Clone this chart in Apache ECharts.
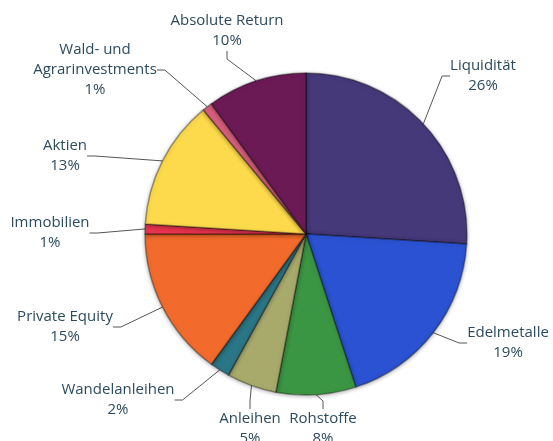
<!DOCTYPE html>
<html><head><meta charset="utf-8">
<script src="https://cdn.jsdelivr.net/npm/echarts@6/dist/echarts.min.js"></script>
<style>html,body{margin:0;padding:0;background:#fff}#c{width:553px;height:441px}</style>
</head><body><div id="c"></div>
<script>
const categories = ["Liquidität","Edelmetalle","Rohstoffe","Anleihen","Wandelanleihen","Private Equity","Immobilien","Aktien","Wald- und\nAgrarinvestments","Absolute Return"];
const values = [26,19,8,5,2,15,1,13,1,10];
const colors = ["#46397a","#2b52d2","#3a9642","#a8aa6c","#2a7586","#f26b2c","#e8344e","#fdd94c","#d9607e","#6c1a56"];
// label centres (text positions only)
const labelPos = [[483,76],[508,343],[323,429],[250,429],[118,400],[65,327],[50,233],[65,156],[95,70],[227,31]];

const chart = echarts.init(document.getElementById('c'));
chart.setOption({
  animation:false,
  series:[{
    type:'pie',
    center:[306,234],
    radius:161,
    startAngle:90,
    clockwise:true,
    data:categories.map((n,i)=>({name:n,value:values[i],itemStyle:{color:colors[i]}})),
    itemStyle:{borderColor:'rgba(0,0,0,0.35)',borderWidth:1.5,shadowBlur:4,shadowColor:'rgba(0,0,0,0.35)',shadowOffsetY:1},
    label:{show:true,formatter:'{b}\n{c}%',color:'#2c4b5e',fontFamily:'Open Sans',fontSize:15,lineHeight:20,align:'center'},
    labelLine:{show:true,length:18,length2:8,lineStyle:{color:'#555',width:1}},
    labelLayout:function(p){
      const pos=labelPos[p.dataIndex];
      return {x:pos[0],y:pos[1],align:'center',verticalAlign:'middle'};
    },
    emphasis:{disabled:true}
  }]
});
</script></body></html>
